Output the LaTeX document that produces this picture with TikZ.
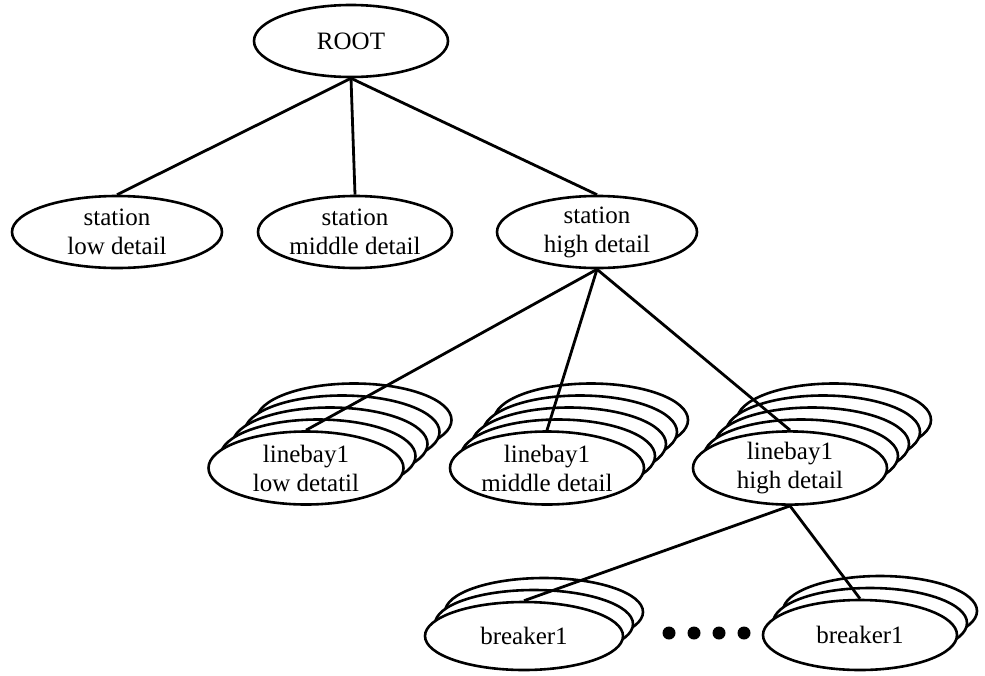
\documentclass[tikz,border=0pt]{standalone}
\usepackage{fontspec}
\setmainfont{Liberation Serif}
\usetikzlibrary{shapes.geometric}
\begin{document}
\begin{tikzpicture}[x=1pt,y=-1pt,
  ell/.style={ellipse, draw, line width=2.6pt, fill=white, inner sep=0pt,
              align=center, font=\fontsize{25}{29}\selectfont},
  dims/.style 2 args={minimum width=#1pt, minimum height=#2pt},
  link/.style={line width=2.8pt},
  dotmark/.style={circle, fill=black, inner sep=0pt, minimum size=13pt}]
\useasboundingbox (0,0) rectangle (985,675);

% root and the three station variants
\node[ell, dims={194}{72}] (root) at (351,41) {ROOT};
\node[ell, dims={210}{72}] (stlow)  at (117,232) {station\\low detail};
\node[ell, dims={194}{72}] (stmid)  at (355,232) {station\\middle detail};
\node[ell, dims={200}{72}] (sthigh) at (597,232) {station\\high detail};

% stacked linebay instances (back layers first)
\foreach \k in {4,3,2,1} {
  \node[ell, dims={195}{73}] (lblow\k)  at ({306+12*\k},{468-12*\k}) {};
  \node[ell, dims={194}{73}] (lbmid\k)  at ({547+11*\k},{468-12*\k}) {};
  \node[ell, dims={194}{73}] (lbhigh\k) at ({790+11*\k},{468-12*\k}) {};
}
\node[ell, dims={195}{73}] (lblow)  at (306,468) {linebay1\\low detatil};
\node[ell, dims={194}{73}] (lbmid)  at (547,468) {linebay1\\middle detail};
\node[ell, dims={194}{73}] (lbhigh) at (790,468) {linebay1\\high detail};

% stacked breaker instances
\foreach \k in {2,1} {
  \node[ell, dims={198}{68}] (brA\k) at ({524+10*\k},{636-12*\k}) {};
  \node[ell, dims={194}{70}] (brB\k) at ({860+10*\k},{635-12*\k}) {};
}
\node[ell, dims={198}{68}] (brA) at (524,636) {breaker1};
\node[ell, dims={194}{70}] (brB) at (860,635) {breaker1};

% ellipsis between the breakers
\node[dotmark] (d1) at (669,633) {};
\node[dotmark] (d2) at (694,633) {};
\node[dotmark] (d3) at (719,633) {};
\node[dotmark] (d4) at (744,633) {};

% tree links
\draw[link] (root.south) -- (stlow.north);
\draw[link] (root.south) -- (stmid.north);
\draw[link] (root.south) -- (sthigh.north);
\draw[link] (sthigh.south) -- (lblow.north);
\draw[link] (sthigh.south) -- (lbmid.north);
\draw[link] (sthigh.south) -- (lbhigh.north);
\draw[link] (lbhigh.south) -- (brA.north);
\draw[link] (lbhigh.south) -- (brB.north);
\end{tikzpicture}
\end{document}
